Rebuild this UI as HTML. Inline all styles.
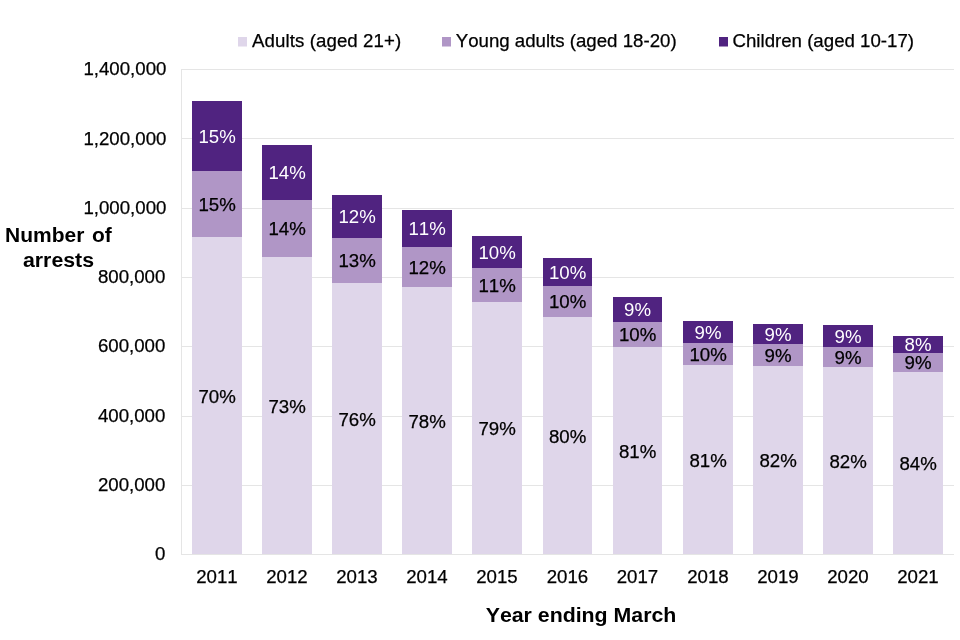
<!DOCTYPE html>
<html lang="en"><head><meta charset="utf-8"><title>Number of arrests by age group</title>
<style>
html,body{margin:0;padding:0;background:#fff;}
body{width:960px;height:640px;overflow:hidden;}
svg{display:block;}
text{font-family:"Liberation Sans",Arial,Helvetica,sans-serif;font-size:18.67px;fill:#000;stroke:#000;stroke-width:0.25px;font-kerning:none;}
.b{font-weight:bold;font-size:20px;stroke:none;}
.w{fill:#fff;stroke:none;}
.m{text-anchor:middle;}
.e{text-anchor:end;}
</style></head><body>
<svg width="960" height="640" viewBox="0 0 960 640">
<rect width="960" height="640" fill="#fff"/>

<g stroke="#e5e5e5" stroke-width="1" fill="none">
<line x1="181" y1="69.5" x2="954" y2="69.5"/>
<line x1="181" y1="138.5" x2="954" y2="138.5"/>
<line x1="181" y1="208.5" x2="954" y2="208.5"/>
<line x1="181" y1="277.5" x2="954" y2="277.5"/>
<line x1="181" y1="346.5" x2="954" y2="346.5"/>
<line x1="181" y1="416.5" x2="954" y2="416.5"/>
<line x1="181" y1="485.5" x2="954" y2="485.5"/>
<line x1="181" y1="554.5" x2="954" y2="554.5"/>
<line x1="181.5" y1="69" x2="181.5" y2="555"/>
</g>
<rect x="192" y="237" width="50" height="317.0" fill="#dfd6ea"/>
<rect x="192" y="171" width="50" height="66" fill="#b096c6"/>
<rect x="192" y="101" width="50" height="70" fill="#502380"/>
<rect x="262" y="257" width="50" height="297.0" fill="#dfd6ea"/>
<rect x="262" y="200" width="50" height="57" fill="#b096c6"/>
<rect x="262" y="145" width="50" height="55" fill="#502380"/>
<rect x="332" y="283" width="50" height="271.0" fill="#dfd6ea"/>
<rect x="332" y="238" width="50" height="45" fill="#b096c6"/>
<rect x="332" y="195" width="50" height="43" fill="#502380"/>
<rect x="402" y="287" width="50" height="267.0" fill="#dfd6ea"/>
<rect x="402" y="247" width="50" height="40" fill="#b096c6"/>
<rect x="402" y="210" width="50" height="37" fill="#502380"/>
<rect x="472" y="302" width="50" height="252.0" fill="#dfd6ea"/>
<rect x="472" y="268" width="50" height="34" fill="#b096c6"/>
<rect x="472" y="236" width="50" height="32" fill="#502380"/>
<rect x="543" y="317" width="49" height="237.0" fill="#dfd6ea"/>
<rect x="543" y="286" width="49" height="31" fill="#b096c6"/>
<rect x="543" y="258" width="49" height="28" fill="#502380"/>
<rect x="613" y="347" width="49" height="207.0" fill="#dfd6ea"/>
<rect x="613" y="322" width="49" height="25" fill="#b096c6"/>
<rect x="613" y="297" width="49" height="25" fill="#502380"/>
<rect x="683" y="365" width="50" height="189.0" fill="#dfd6ea"/>
<rect x="683" y="343" width="50" height="22" fill="#b096c6"/>
<rect x="683" y="321" width="50" height="22" fill="#502380"/>
<rect x="753" y="366" width="50" height="188.0" fill="#dfd6ea"/>
<rect x="753" y="344" width="50" height="22" fill="#b096c6"/>
<rect x="753" y="324" width="50" height="20" fill="#502380"/>
<rect x="823" y="367" width="50" height="187.0" fill="#dfd6ea"/>
<rect x="823" y="347" width="50" height="20" fill="#b096c6"/>
<rect x="823" y="325" width="50" height="22" fill="#502380"/>
<rect x="893" y="372" width="50" height="182.0" fill="#dfd6ea"/>
<rect x="893" y="353" width="50" height="19" fill="#b096c6"/>
<rect x="893" y="336" width="50" height="17" fill="#502380"/>
<text class="m w" x="217.1" y="142.6">15%</text>
<text class="m" x="217.1" y="210.6">15%</text>
<text class="m" x="217.1" y="402.6">70%</text>
<text class="m" x="217.0" y="582.6">2011</text>
<text class="m w" x="287.1" y="179.1">14%</text>
<text class="m" x="287.1" y="235.1">14%</text>
<text class="m" x="287.1" y="412.6">73%</text>
<text class="m" x="287.0" y="582.6">2012</text>
<text class="m w" x="357.1" y="223.1">12%</text>
<text class="m" x="357.1" y="267.1">13%</text>
<text class="m" x="357.1" y="425.6">76%</text>
<text class="m" x="357.0" y="582.6">2013</text>
<text class="m w" x="427.1" y="235.1">11%</text>
<text class="m" x="427.1" y="273.6">12%</text>
<text class="m" x="427.1" y="427.6">78%</text>
<text class="m" x="427.0" y="582.6">2014</text>
<text class="m w" x="497.1" y="258.6">10%</text>
<text class="m" x="497.1" y="291.6">11%</text>
<text class="m" x="497.1" y="435.1">79%</text>
<text class="m" x="497.0" y="582.6">2015</text>
<text class="m w" x="567.6" y="278.6">10%</text>
<text class="m" x="567.6" y="308.1">10%</text>
<text class="m" x="567.6" y="442.6">80%</text>
<text class="m" x="567.5" y="582.6">2016</text>
<text class="m w" x="637.6" y="316.1">9%</text>
<text class="m" x="637.6" y="341.1">10%</text>
<text class="m" x="637.6" y="457.6">81%</text>
<text class="m" x="637.5" y="582.6">2017</text>
<text class="m w" x="708.1" y="338.6">9%</text>
<text class="m" x="708.1" y="360.6">10%</text>
<text class="m" x="708.1" y="466.6">81%</text>
<text class="m" x="708.0" y="582.6">2018</text>
<text class="m w" x="778.1" y="340.6">9%</text>
<text class="m" x="778.1" y="361.6">9%</text>
<text class="m" x="778.1" y="467.1">82%</text>
<text class="m" x="778.0" y="582.6">2019</text>
<text class="m w" x="848.1" y="342.6">9%</text>
<text class="m" x="848.1" y="363.6">9%</text>
<text class="m" x="848.1" y="467.6">82%</text>
<text class="m" x="848.0" y="582.6">2020</text>
<text class="m w" x="918.1" y="351.1">8%</text>
<text class="m" x="918.1" y="369.1">9%</text>
<text class="m" x="918.1" y="470.1">84%</text>
<text class="m" x="918.0" y="582.6">2021</text>
<text class="e" x="166.4" y="75.3">1,400,000</text>
<text class="e" x="166.4" y="144.6">1,200,000</text>
<text class="e" x="166.4" y="213.9">1,000,000</text>
<text class="e" x="165.4" y="283.2">800,000</text>
<text class="e" x="165.4" y="352.4">600,000</text>
<text class="e" x="165.4" y="421.7">400,000</text>
<text class="e" x="165.4" y="491.0">200,000</text>
<text class="e" x="165.4" y="560.3">0</text>
<rect x="238" y="37" width="9" height="9.5" fill="#dfd6ea"/>
<text x="252" y="47.2" style="letter-spacing:0.09px">Adults (aged 21+)</text>
<rect x="442" y="37" width="9" height="9.5" fill="#b096c6"/>
<text x="455.7" y="47.2">Young adults (aged 18-20)</text>
<rect x="719" y="37" width="9" height="9.5" fill="#502380"/>
<text x="732.5" y="47.2">Children (aged 10-17)</text>
<text class="b m" transform="translate(58.4,241.5) scale(1.05,1)" style="word-spacing:1.6px">Number of</text>
<text class="b m" transform="translate(58.5,266.5) scale(1.066,1)">arrests</text>
<text class="b m" transform="translate(581,621.5) scale(1.066,1)">Year ending March</text>
</svg></body></html>
